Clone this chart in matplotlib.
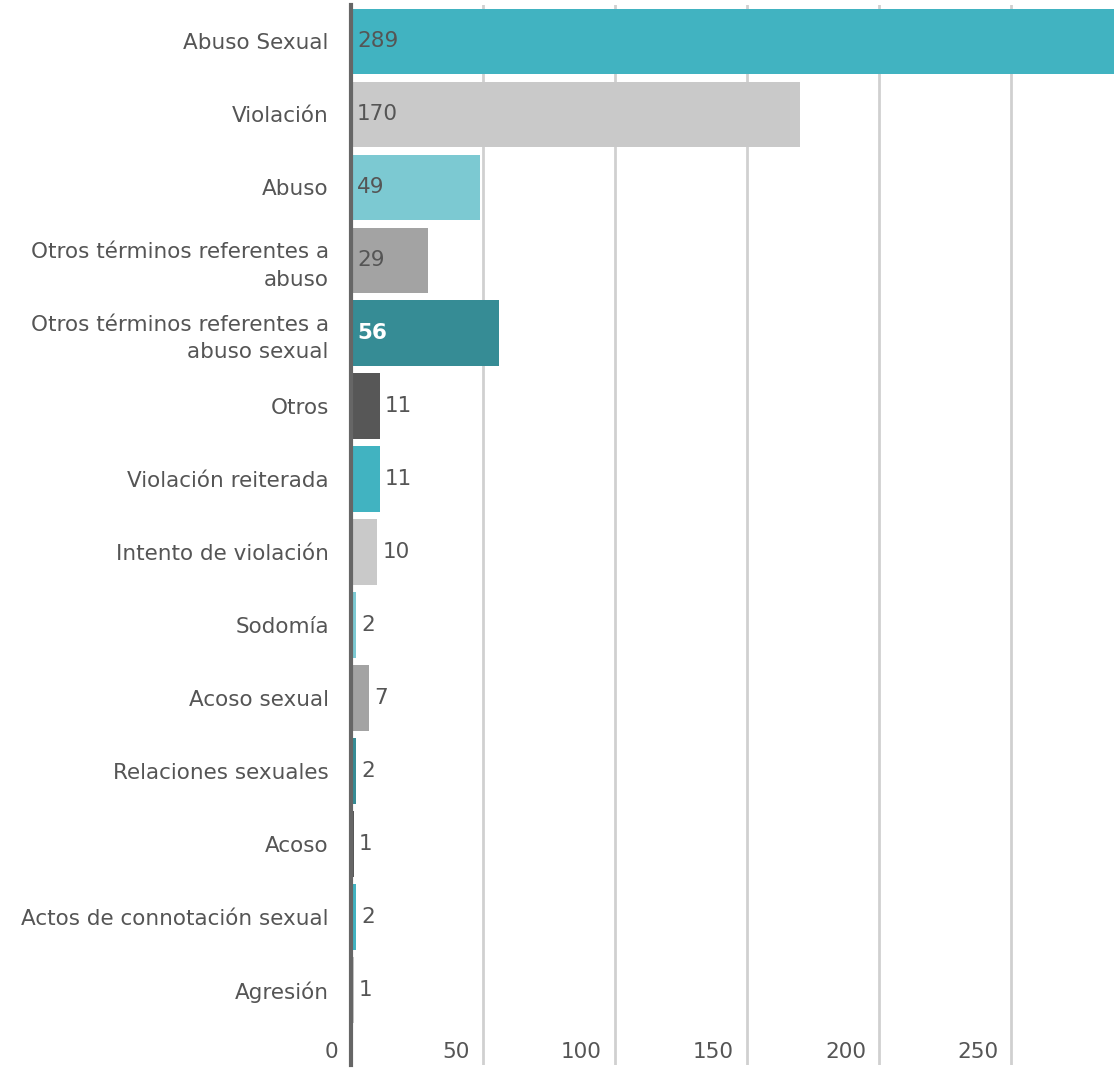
import matplotlib.pyplot as plt

# categorías y número de casos
categorias = ['Abuso Sexual', 'Violación', 'Abuso', 'Otros términos referentes a\nabuso',
              'Otros términos referentes a\nabuso sexual', 'Otros', 'Violación reiterada',
              'Intento de violación', 'Sodomía', 'Acoso sexual', 'Relaciones sexuales',
              'Acoso', 'Actos de connotación sexual', 'Agresión']
casos = [289, 170, 49, 29, 56, 11, 11, 10, 2, 7, 2, 1, 2, 1]
ticks = [0, 50, 100, 150, 200, 250]

# paleta que se repite cada 6 barras
paleta = ['#41b3c1', '#c9c9c9', '#7cc9d2', '#a3a3a3', '#368c95', '#575757']
colores = [paleta[i % len(paleta)] for i in range(len(casos))]
gris_texto = '#555555'
fs = 15.5

plt.rcParams['font.family'] = ['DejaVu Sans']

fig = plt.figure(figsize=(11.15, 10.7), dpi=100)
ax = fig.add_axes([351 / 1115, 5 / 1070, 763 / 1115, 1060 / 1070])

y = list(range(len(casos)))
ax.barh(y, casos, height=0.9, color=colores, zorder=3)

ax.set_xlim(0, max(casos))
ax.set_ylim(len(casos) - 0.5 + 0.53, -0.5)

# etiquetas de valor: dentro de la barra si cabe, fuera si no
for i, v in enumerate(casos):
    if v >= 20:
        col = 'white' if colores[i] == '#368c95' else gris_texto
        peso = 'bold' if col == 'white' else 'normal'
        ax.annotate(str(v), (0, i), xytext=(6, 0), textcoords='offset pixels',
                    va='center', ha='left', fontsize=fs, color=col, weight=peso, zorder=4)
    else:
        ax.annotate(str(v), (v, i), xytext=(5, 0), textcoords='offset pixels',
                    va='center', ha='left', fontsize=fs, color=gris_texto, zorder=4)

# nombres de categoría a la izquierda
ax.set_yticks(y)
ax.set_yticklabels(categorias, fontsize=fs, color=gris_texto, ha='right',
                   multialignment='right', linespacing=1.45)
ax.tick_params(axis='y', length=0, pad=16)

# eje x: rejilla vertical y números pegados a la izquierda de cada línea
ax.set_xticks(ticks)
ax.set_xticklabels([])
ax.tick_params(axis='x', length=0)
ax.grid(axis='x', color='#d0d0d0', linewidth=2, zorder=0)
for t in ticks:
    ax.annotate(str(t), (t, 0), xycoords=ax.get_xaxis_transform(), xytext=(-13, 3),
                textcoords='offset pixels', ha='right', va='bottom', fontsize=fs,
                color=gris_texto)

for lado in ['top', 'right', 'bottom']:
    ax.spines[lado].set_visible(False)
ax.spines['left'].set_color('#666666')
ax.spines['left'].set_linewidth(3)
ax.spines['left'].set_zorder(5)

fig.savefig('out.png', dpi=100)
